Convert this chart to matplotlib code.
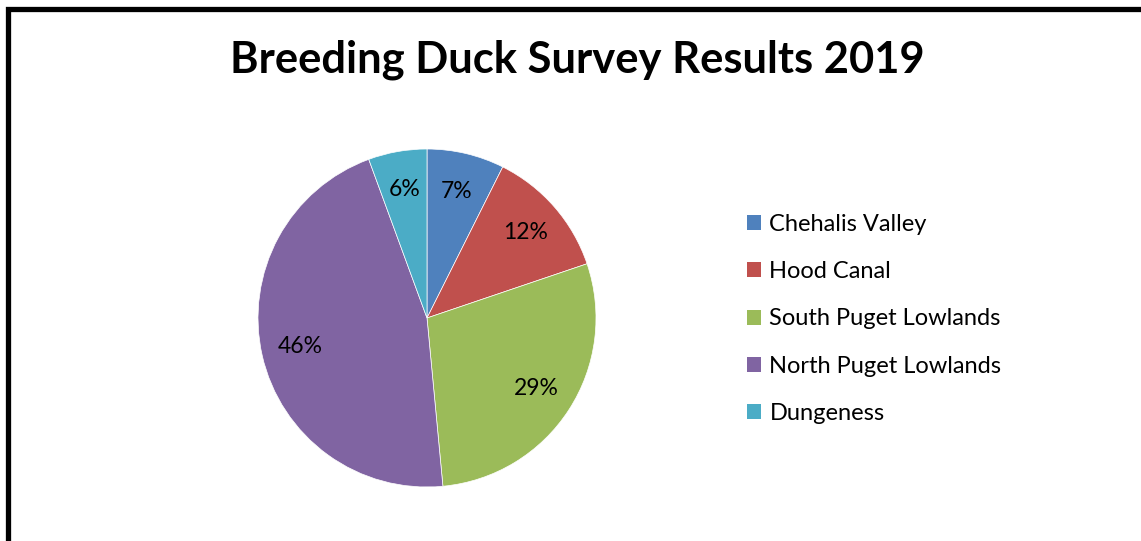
import matplotlib
matplotlib.use("Agg")
import matplotlib.pyplot as plt
from matplotlib.patches import Rectangle, Patch

categories = ["Chehalis Valley", "Hood Canal", "South Puget Lowlands", "North Puget Lowlands", "Dungeness"]
values = [7.4, 12.4, 28.7, 45.9, 5.6]
colors = ["#4F81BD", "#C0504D", "#9BBB59", "#8064A2", "#4BACC6"]
title = "Breeding Duck Survey Results 2019"

W, H = 1141, 541
fig = plt.figure(figsize=(W / 100, H / 100), dpi=100)
plt.rcParams['font.family'] = ['Lato', 'DejaVu Sans']

# border (extends past right and bottom edges)
fig.patches.append(Rectangle((8 / W, -0.1), 1.2, 1 + 0.1 - 9.5 / H, transform=fig.transFigure,
                             fill=False, edgecolor="black", linewidth=3.8, zorder=10))

cx, cy, r = 427, 318, 169
ax = fig.add_axes([(cx - r) / W, (H - cy - r) / H, 2 * r / W, 2 * r / H])
wedges, texts, autotexts = ax.pie(values, colors=colors, startangle=90, counterclock=False,
                                  autopct='%.0f%%', pctdistance=0.77, radius=1,
                                  wedgeprops=dict(edgecolor="white", linewidth=0.5),
                                  textprops=dict(fontsize=16.5, color="black"))
ax.set_xlim(-1, 1)
ax.set_ylim(-1, 1)
ax.axis("off")

fig.text(577 / W, 1 - 60 / H, title, ha="center", va="center", fontsize=31.3, fontweight="bold")

handles = [Patch(facecolor=c, edgecolor="none") for c in colors]
fig.legend(handles, categories, loc="upper left", bbox_to_anchor=(747 / W, 1 - 214 / H),
           frameon=False, fontsize=17, handlelength=0.6, handleheight=0.6,
           handletextpad=0.35, labelspacing=1.11, borderaxespad=0, borderpad=0)

fig.savefig("out.png", dpi=100)
